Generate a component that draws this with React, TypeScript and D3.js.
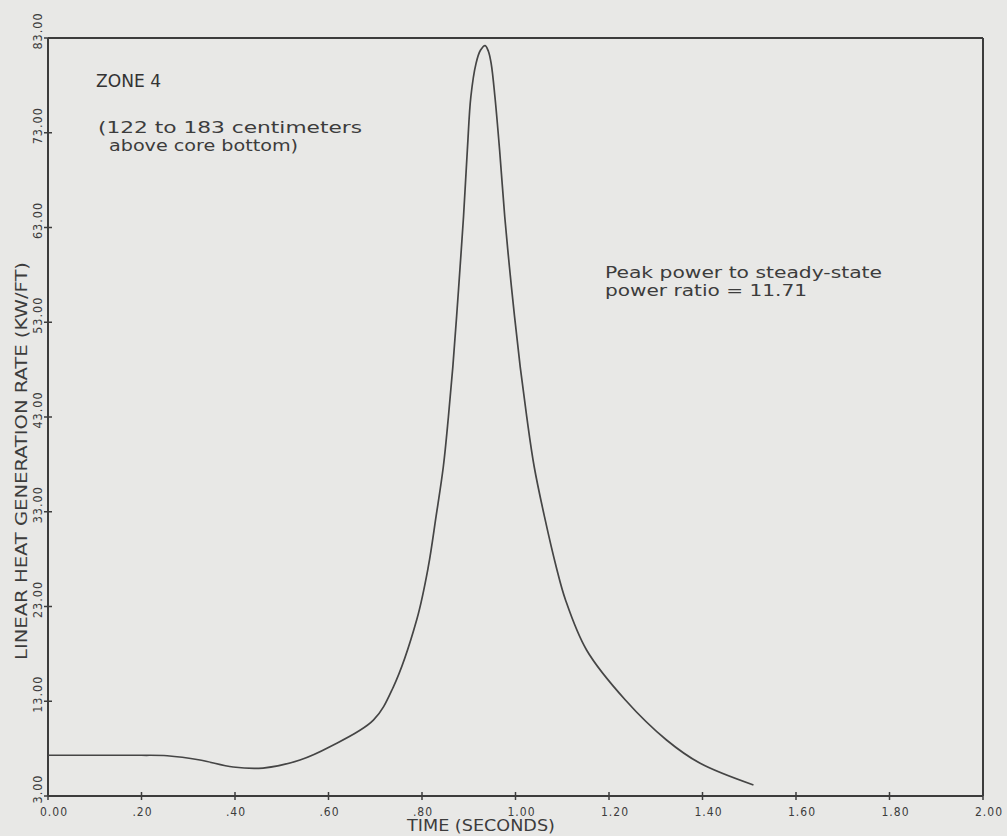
import React from "react";
import * as d3 from "d3";

const timeSec = [0, 0.1, 0.2, 0.255, 0.325, 0.396, 0.46, 0.539, 0.603, 0.696, 0.7386, 0.7887, 0.8135, 0.83, 0.8456, 0.8565, 0.866, 0.874, 0.8815, 0.8888, 0.897, 0.9045, 0.9155, 0.925, 0.935, 0.942, 0.948, 0.956, 0.966, 0.977, 0.987, 0.998, 1.01, 1.024, 1.04, 1.062, 1.087, 1.107, 1.152, 1.235, 1.323, 1.395, 1.509];
const heatRate = [7.3, 7.3, 7.3, 7.25, 6.8, 6.06, 5.95, 6.8, 8.2, 11.0, 14.5, 21.6, 27.2, 32.48, 37.75, 43.03, 48.31, 53.59, 58.86, 64.14, 71.18, 76.8, 80.3, 81.7, 82.2, 81.6, 80.3, 76.8, 71.18, 64.14, 58.86, 53.59, 48.31, 43.03, 37.75, 32.48, 27.2, 23.69, 18.41, 13.13, 8.91, 6.45, 4.16];

const xTicks = [0, 0.2, 0.4, 0.6, 0.8, 1.0, 1.2, 1.4, 1.6, 1.8, 2.0];
const xTickLabels = ["0.00", ".20", ".40", ".60", ".80", "1.00", "1.20", "1.40", "1.60", "1.80", "2.00"];
const yTicks = [3, 13, 23, 33, 43, 53, 63, 73, 83];
const yTickLabels = ["3.00", "13.00", "23.00", "33.00", "43.00", "53.00", "63.00", "73.00", "83.00"];

const zoneTitle = "ZONE 4";
const zoneLines = ["(122 to 183 centimeters", "above core bottom)"];
const ratioLines = ["Peak power to steady-state", "power ratio = 11.71"];
const xTitle = "TIME (SECONDS)";
const yTitle = "LINEAR HEAT GENERATION RATE (KW/FT)";

const W = 1007;
const H = 836;
const INK = "#3c3c3c";
const FONT = "'DejaVu Sans Condensed', 'DejaVu Sans', sans-serif";

export default function App() {
  const x = d3.scaleLinear().domain([0, 2]).range([48, 983]);
  const y = d3.scaleLinear().domain([3, 83]).range([796, 38]);
  const pts: [number, number][] = timeSec.map((t, i) => [t, heatRate[i]]);
  const line = d3
    .line<[number, number]>()
    .x((d) => x(d[0]))
    .y((d) => y(d[1]))
    .curve(d3.curveCatmullRom.alpha(0.5));

  return (
    <svg
      width={W}
      height={H}
      style={{ position: "absolute", left: 0, top: 0, display: "block" }}
      fontFamily={FONT}
    >
      <rect x={0} y={0} width={W} height={H} fill="#e8e8e6" />
      {/* frame */}
      <g stroke={INK} strokeWidth={2} fill="none">
        <line x1={x(0)} x2={x(2)} y1={y(83)} y2={y(83)} />
        <line x1={x(0)} x2={x(2)} y1={y(3)} y2={y(3)} />
        <line x1={x(0)} x2={x(0)} y1={y(3)} y2={y(83)} />
        <line x1={x(2)} x2={x(2)} y1={y(3)} y2={y(83)} />
      </g>
      {/* x ticks */}
      {xTicks.map((t, i) => (
        <g key={"x" + i}>
          <line x1={x(t)} x2={x(t)} y1={y(3) - 4} y2={y(3) + 4} stroke={INK} strokeWidth={1.5} />
          <text
            x={x(t) + (xTickLabels[i].length > 3 ? 6 : 1)}
            y={816}
            fontSize={12}
            letterSpacing={1}
            textAnchor="middle"
            fill={INK}
          >
            {xTickLabels[i]}
          </text>
        </g>
      ))}
      {/* y ticks */}
      {yTicks.map((v, i) => (
        <g key={"y" + i}>
          <line x1={x(0) - 4} x2={x(0) + 4} y1={y(v)} y2={y(v)} stroke={INK} strokeWidth={1.5} />
          <text
            transform={`translate(42, ${y(v) - 7}) rotate(-90)`}
            fontSize={12.5}
            letterSpacing={1}
            textAnchor="middle"
            fill={INK}
          >
            {yTickLabels[i]}
          </text>
        </g>
      ))}
      {/* curve */}
      <path d={line(pts) || ""} fill="none" stroke="#454545" strokeWidth={1.7} />
      {/* titles */}
      <text x={407} y={831} fontSize={15} textLength={148} lengthAdjust="spacingAndGlyphs" fill={INK}>
        {xTitle}
      </text>
      <text
        transform="translate(27, 461) rotate(-90)"
        fontSize={16}
        textAnchor="middle"
        textLength={398}
        lengthAdjust="spacingAndGlyphs"
        fill={INK}
      >
        {yTitle}
      </text>
      {/* annotations */}
      <text x={96} y={87} fontSize={17} textLength={65} lengthAdjust="spacingAndGlyphs" fill="#333">
        {zoneTitle}
      </text>
      <text x={98} y={133} fontSize={16} textLength={264} lengthAdjust="spacingAndGlyphs" fill={INK}>
        {zoneLines[0]}
      </text>
      <text x={109} y={151} fontSize={16} textLength={189} lengthAdjust="spacingAndGlyphs" fill={INK}>
        {zoneLines[1]}
      </text>
      <text x={605} y={278} fontSize={15} textLength={277} lengthAdjust="spacingAndGlyphs" fill={INK}>
        {ratioLines[0]}
      </text>
      <text x={605} y={296} fontSize={15} textLength={202} lengthAdjust="spacingAndGlyphs" fill={INK}>
        {ratioLines[1]}
      </text>
    </svg>
  );
}
